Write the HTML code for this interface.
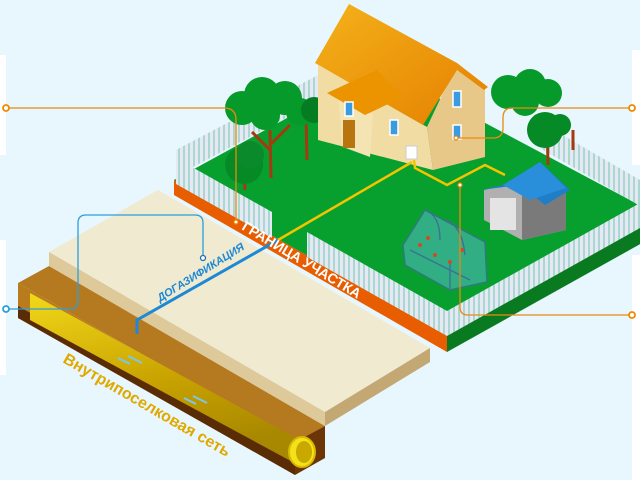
<!DOCTYPE html>
<html><head><meta charset="utf-8"><style>
html,body{margin:0;padding:0;background:#e8f6fd;}
svg{display:block;font-family:"Liberation Sans",sans-serif;}
</style></head><body>
<svg width="640" height="480" viewBox="0 0 640 480" xmlns="http://www.w3.org/2000/svg">
<defs>
<pattern id="fen" width="5" height="30" patternUnits="userSpaceOnUse">
<rect width="5" height="30" fill="#a9d8cf"/><rect width="3" height="30" fill="#e6e8f6"/>
</pattern>
<linearGradient id="roof" x1="0" y1="0" x2="1" y2="1"><stop offset="0" stop-color="#f4b21a"/><stop offset="1" stop-color="#e57f00"/></linearGradient>
<linearGradient id="pipe" x1="0" y1="0" x2="0.3" y2="1"><stop offset="0" stop-color="#f2d81a"/><stop offset="0.6" stop-color="#c8a200"/><stop offset="1" stop-color="#a88800"/></linearGradient>
</defs>
<rect width="640" height="480" fill="#e8f6fd"/>
<rect x="0" y="55" width="6" height="100" fill="#fff"/>
<rect x="0" y="240" width="6" height="135" fill="#fff"/>
<rect x="632" y="50" width="8" height="115" fill="#fff"/>
<rect x="632" y="255" width="8" height="225" fill="#fff"/>

<!-- soil block -->
<polygon points="18,283 49,266 325,426 295,442" fill="#b57a1f"/>
<polygon points="18,283 295,442 295,475 18,318" fill="#b87c1d"/>
<polygon points="18,306 295,462 295,475 18,318" fill="#5a2c05"/>
<polygon points="295,442 325,426 325,458 295,475" fill="#6b3505"/>
<!-- pipe -->
<polygon points="30,293 300,440 300,466 30,320" fill="url(#pipe)"/>
<ellipse cx="302" cy="452" rx="13" ry="15" fill="#f3e21a" stroke="#d8b800" stroke-width="2"/>
<ellipse cx="304" cy="452" rx="8" ry="11" fill="#c9a800"/>
<g stroke="#7cc6ee" stroke-width="2" fill="none">
<path d="M128 356 L142 363 M130 364 L118 358"/><path d="M193 396 L207 403 M196 404 L184 398"/>
</g>
<!-- sand slab -->
<polygon points="49,252 158,190 430,348 325,412" fill="#f0ead0"/>
<polygon points="49,252 325,412 325,426 49,266" fill="#ddc99a"/>
<polygon points="325,412 430,348 430,362 325,426" fill="#c3a873"/>

<!-- plot -->
<polygon points="174,180 380,67 660,216 447,335" fill="#07a02e"/>
<polygon points="174,180 447,335 447,352 174,195" fill="#e85d00"/>
<polygon points="447,335 660,216 660,233 447,352" fill="#0a7a20"/>
<!-- fences back -->
<polygon points="176,150 320,74 320,100 176,176" fill="url(#fen)"/>
<polygon points="540,122 640,180 640,206 540,148" fill="url(#fen)"/>

<!-- trees left -->
<g stroke="#a33a10" stroke-width="3" fill="none">
<path d="M271 178 L270 130 M270 150 L252 132 M270 145 L290 125"/>
<path d="M307 160 L306 115"/><path d="M245 190 L244 165"/>
<path d="M548 165 L547 120 M547 135 L535 115"/><path d="M573 150 L573 130"/>
</g>
<g fill="#069a2b">
<circle cx="242" cy="108" r="17"/><circle cx="262" cy="95" r="18"/><circle cx="285" cy="98" r="17"/><circle cx="300" cy="112" r="14"/><circle cx="265" cy="115" r="15"/>
<circle cx="244" cy="165" r="19" fill="#058a26"/><circle cx="250" cy="155" r="14" fill="#0a8a2a"/>
<circle cx="314" cy="110" r="13" fill="#057c22"/>
<circle cx="508" cy="92" r="17"/><circle cx="530" cy="85" r="16"/><circle cx="548" cy="93" r="14"/><circle cx="525" cy="102" r="14"/>
<circle cx="545" cy="130" r="18" fill="#058a26"/><circle cx="560" cy="125" r="11" fill="#058a26"/>
</g>

<!-- house -->
<polygon points="318,65 427,127 433,170 318,140" fill="#f1dda3"/>
<polygon points="427,127 457,63 485,86 485,157 433,170" fill="#e8c888"/>
<polygon points="337,87 373,115 370,157 343,147" fill="#f5e4b3"/>
<polygon points="349,4 457,63 488,87 484,90 457,70 423,125 315,63" fill="url(#roof)"/>
<polygon points="327,93 377,70 403,97 365,115" fill="#ec9300"/>
<rect x="343" y="120" width="12" height="28" fill="#b8740f"/>
<rect x="345" y="102" width="8" height="14" fill="#3a9be0" stroke="#fff" stroke-width="1.5"/>
<rect x="390" y="120" width="8" height="15" fill="#3a9be0" stroke="#fff" stroke-width="1.5"/>
<rect x="453" y="91" width="8" height="16" fill="#3a9be0" stroke="#fff" stroke-width="1.5"/>
<rect x="453" y="125" width="8" height="14" fill="#3a9be0" stroke="#fff" stroke-width="1.5"/>
<rect x="406" y="146" width="11" height="13" fill="#fff" stroke="#ccc"/>

<!-- front fences -->
<polygon points="176,158 272,212 272,238 176,184" fill="url(#fen)"/>
<polygon points="307,232 447,311 447,336 307,257" fill="url(#fen)"/>
<polygon points="447,311 640,203 640,228 447,336" fill="url(#fen)"/>

<!-- garage -->
<polygon points="484,190 522,182 566,190 566,230 522,240 484,220" fill="#b0b0b0"/>
<polygon points="522,182 566,190 566,230 522,240" fill="#7a7a7a"/>
<rect x="490" y="198" width="26" height="32" fill="#e4e4e4"/>
<polygon points="480,190 503,185 540,162 570,190 545,205 520,185" fill="#1f7ec8"/>
<polygon points="503,185 540,162 566,188 530,200" fill="#2a8fdb"/>

<!-- greenhouse -->
<polygon points="403,245 425,210 485,242 487,282 450,290 405,265" fill="#3fb3a0" opacity="0.75" stroke="#3d6e95" stroke-width="1.5"/>
<g stroke="#3d6e95" fill="none" stroke-width="1.3"><path d="M425,210 Q440,215 440,240 M445,220 Q462,225 465,255 M410,250 L470,280 M450,290 L450,262"/></g>
<g fill="#d04a2a"><circle cx="420" cy="245" r="2"/><circle cx="435" cy="255" r="2"/><circle cx="450" cy="262" r="2"/><circle cx="462" cy="250" r="2"/><circle cx="428" cy="238" r="2"/></g>

<!-- gas lines -->
<polyline points="412,162 278,240" fill="none" stroke="#f3c400" stroke-width="2.5"/>
<polyline points="414,160 415,168 447,185 485,165 505,175" fill="none" stroke="#f3c400" stroke-width="2.5"/>
<polyline points="278,240 137,320 137,334" fill="none" stroke="#1c88d6" stroke-width="3"/>

<!-- callout lines -->
<g fill="none" stroke="#e98a12" stroke-width="1.3">
<path d="M6,108 H224 Q236,108 236,120 V222"/>
<path d="M632,108 H512 Q503,108 503,118 V128 Q503,138 493,138 H456"/>
<path d="M632,315 H468 Q460,315 460,307 V185"/>
</g>
<path d="M6,309 H70 Q78,309 78,301 V223 Q78,215 86,215 H195 Q203,215 203,223 V258" fill="none" stroke="#2b9ede" stroke-width="1.3"/>
<g fill="#fff" stroke="#f08a00" stroke-width="1.8">
<circle cx="6" cy="108" r="3"/><circle cx="632" cy="108" r="3"/><circle cx="632" cy="315" r="3"/>
</g>
<g fill="#fff" stroke="#e98a12" stroke-width="1.2"><circle cx="236" cy="222" r="2"/><circle cx="456" cy="138" r="2"/><circle cx="460" cy="185" r="2"/></g>
<circle cx="6" cy="309" r="3" fill="#fff" stroke="#2b9ede" stroke-width="1.8"/>
<circle cx="203" cy="258" r="2.5" fill="#fff" stroke="#1c6fb0" stroke-width="1.3"/>

<!-- labels -->
<text x="241" y="229" transform="rotate(31 241 229)" font-size="14" font-weight="bold" fill="#fff">ГРАНИЦА УЧАСТКА</text>
<text x="160" y="302" transform="rotate(-32 160 302)" font-size="11" font-weight="bold" font-style="italic" fill="#1c88d6">ДОГАЗИФИКАЦИЯ</text>
<text x="62" y="362" transform="rotate(30 62 362)" font-size="16" font-weight="bold" fill="#e0a900">Внутрипоселковая сеть</text>
</svg>
</body></html>
